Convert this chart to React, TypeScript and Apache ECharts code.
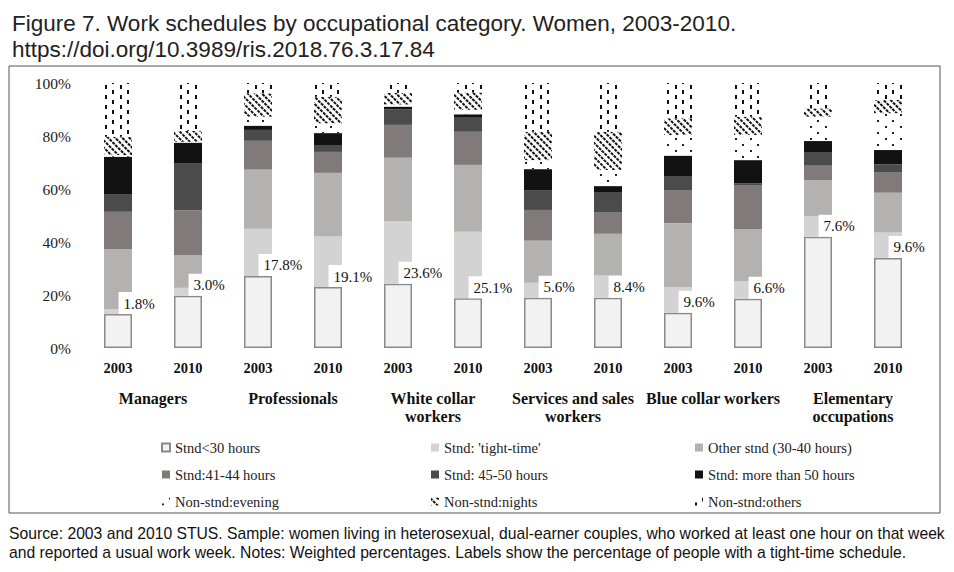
import React, { useEffect, useRef } from "react";
import * as echarts from "echarts";

const years = ["2003", "2010", "2003", "2010", "2003", "2010", "2003", "2010", "2003", "2010", "2003", "2010"];
const groups = [
  "Managers",
  "Professionals",
  "White collar\nworkers",
  "Services and sales\nworkers",
  "Blue collar workers",
  "Elementary\noccupations",
];
const seriesNames = [
  "Stnd<30 hours",
  "Stnd: 'tight-time'",
  "Other stnd (30-40 hours)",
  "Stnd:41-44 hours",
  "Stnd: 45-50 hours",
  "Stnd: more than 50 hours",
  "Non-stnd:evening",
  "Non-stnd:nights",
  "Non-stnd:others",
];
const under30 = [12.8, 19.7, 27.2, 23.0, 24.2, 18.8, 19.0, 19.0, 13.3, 18.6, 42.0, 34.0];
const tightTime = [1.8, 3.0, 17.8, 19.1, 23.6, 25.1, 5.6, 8.4, 9.6, 6.6, 7.6, 9.6];
const otherStnd = [22.8, 12.4, 22.3, 24.0, 24.0, 25.2, 15.9, 15.7, 24.2, 19.6, 13.8, 15.0];
const h41to44 = [14.0, 16.9, 10.9, 7.9, 12.4, 12.5, 11.6, 8.0, 12.3, 16.7, 5.4, 7.6];
const h45to50 = [6.7, 17.6, 4.1, 2.6, 5.9, 5.3, 7.3, 7.5, 5.5, 0.6, 4.9, 3.1];
const over50 = [14.1, 7.9, 1.6, 4.5, 1.0, 1.3, 8.1, 2.5, 7.7, 8.8, 4.4, 5.4];
const evening = [0.6, 0.3, 3.4, 3.7, 0.8, 1.7, 3.4, 6.1, 7.8, 9.5, 9.2, 13.9];
const nights = [6.9, 4.2, 8.8, 10.0, 4.4, 6.5, 10.7, 14.4, 6.3, 6.9, 3.1, 5.0];
const others = [20.3, 18.0, 3.9, 5.2, 3.7, 3.6, 18.4, 18.4, 13.3, 12.7, 9.6, 6.4];
const yTicks = [0, 20, 40, 60, 80, 100];

const titleText =
  "Figure 7. Work schedules by occupational category. Women, 2003-2010.\nhttps://doi.org/10.3989/ris.2018.76.3.17.84";
const sourceText =
  "Source: 2003 and 2010 STUS. Sample: women living in heterosexual, dual-earner couples, who worked at least one hour on that week\nand reported a usual work week. Notes: Weighted percentages. Labels show the percentage of people with a tight-time schedule.";

const SERIF = "'Liberation Serif', 'Times New Roman', serif";
const SANS = "'Liberation Sans', Arial, sans-serif";

export default function App() {
  const ref = useRef<HTMLDivElement>(null);

  useEffect(() => {
    if (!ref.current) return;
    const chart = echarts.init(ref.current, undefined, { renderer: "svg" });

    const base = (name: string, data: number[], itemStyle: any, extra: any = {}) => ({
      name,
      type: "bar",
      stack: "total",
      barWidth: 28,
      data,
      itemStyle,
      emphasis: { disabled: true },
      ...extra,
    });

    const dataSets = [under30, tightTime, otherStnd, h41to44, h45to50, over50, evening, nights, others];

    const styles: any[] = [
      { color: "#f2f2f2", borderColor: "#8a8a8a", borderWidth: 1.5 },
      { color: "#d4d3d3" },
      { color: "#b4b1b1" },
      { color: "#807b7a" },
      { color: "#4b4b4b" },
      { color: "#121212" },
      {
        color: "#ffffff",
        decal: {
          symbol: "rect",
          symbolSize: 1,
          dashArrayX: [[1.5, 12.5], [0, 7, 1.5, 5.5]],
          dashArrayY: [1.5, 4],
          color: "#222",
          backgroundColor: "#ffffff",
        },
      },
      {
        color: "#ffffff",
        decal: {
          symbol: "rect",
          symbolSize: 1,
          dashArrayX: [2.2, 0.8],
          dashArrayY: [1.1, 2.2],
          rotation: Math.PI / 4,
          color: "#111",
          backgroundColor: "#ffffff",
        },
      },
      {
        color: "#ffffff",
        decal: {
          symbol: "rect",
          symbolSize: 1,
          dashArrayX: [[1.5, 12.5], [0, 7, 1.5, 5.5]],
          dashArrayY: [4, 0.01],
          color: "#111",
          backgroundColor: "#ffffff",
        },
      },
    ];

    const series = seriesNames.map((n, i) => {
      const extra: any = {};
      if (i === 1) {
        extra.label = {
          show: true,
          position: ["52%", "100%"],
          align: "left",
          verticalAlign: "bottom",
          formatter: (p: any) => Number(p.value).toFixed(1) + "%",
          backgroundColor: "#ffffff",
          padding: [4, 4, 3, 5],
          fontFamily: SERIF,
          fontSize: 15,
          color: "#111",
        };
      }
      return base(n, dataSets[i], styles[i], extra);
    });

    const legendCommon = {
      orient: "vertical",
      top: 435,
      itemGap: 12,
      itemWidth: 8,
      itemHeight: 8,
      icon: "rect",
      selectedMode: false,
      textStyle: { fontFamily: SERIF, fontSize: 14.5, color: "#222" },
    };

    chart.setOption({
      animation: false,
      backgroundColor: "#ffffff",
      title: {
        text: titleText,
        left: 7,
        top: 5,
        textStyle: {
          fontFamily: SANS,
          fontSize: 22.5,
          fontWeight: "normal",
          color: "#222",
          lineHeight: 26,
        },
      },
      grid: { left: 83, right: 31, top: 83, bottom: 224 },
      legend: [
        { ...legendCommon, left: 156, data: [seriesNames[0], seriesNames[3], seriesNames[6]] },
        { ...legendCommon, left: 426, data: [seriesNames[1], seriesNames[4], seriesNames[7]] },
        { ...legendCommon, left: 690, data: [seriesNames[2], seriesNames[5], seriesNames[8]] },
      ],
      xAxis: [
        {
          type: "category",
          data: years,
          position: "bottom",
          axisLine: { show: false },
          axisTick: { show: false },
          axisLabel: {
            interval: 0,
            margin: 12,
            fontFamily: SERIF,
            fontWeight: "bold",
            fontSize: 14.5,
            color: "#111",
          },
        },
        {
          type: "category",
          data: groups,
          position: "bottom",
          offset: 0,
          axisLine: { show: false },
          axisTick: { show: false },
          axisLabel: {
            interval: 0,
            margin: 41,
            fontFamily: SERIF,
            fontWeight: "bold",
            fontSize: 16,
            lineHeight: 18,
            color: "#111",
          },
        },
      ],
      yAxis: {
        type: "value",
        min: yTicks[0],
        max: yTicks[yTicks.length - 1],
        interval: 20,
        axisLine: { show: false },
        axisTick: { show: false },
        splitLine: { show: false },
        axisLabel: {
          margin: 12,
          formatter: "{value}%",
          fontFamily: SERIF,
          fontSize: 15.5,
          color: "#222",
        },
      },
      series,
      graphic: [
        {
          type: "rect",
          shape: { x: 9, y: 66, width: 931, height: 447 },
          style: { fill: "none", stroke: "#555", lineWidth: 1 },
          silent: true,
        },
        {
          type: "text",
          left: 9,
          top: 524,
          style: {
            text: sourceText,
            fontFamily: SANS,
            fontSize: 15.7,
            lineHeight: 19,
            fill: "#111",
          },
          silent: true,
        },
      ],
    });

    return () => chart.dispose();
  }, []);

  return (
    <div
      ref={ref}
      style={{ position: "fixed", left: 0, top: 0, width: 954, height: 572 }}
    />
  );
}
